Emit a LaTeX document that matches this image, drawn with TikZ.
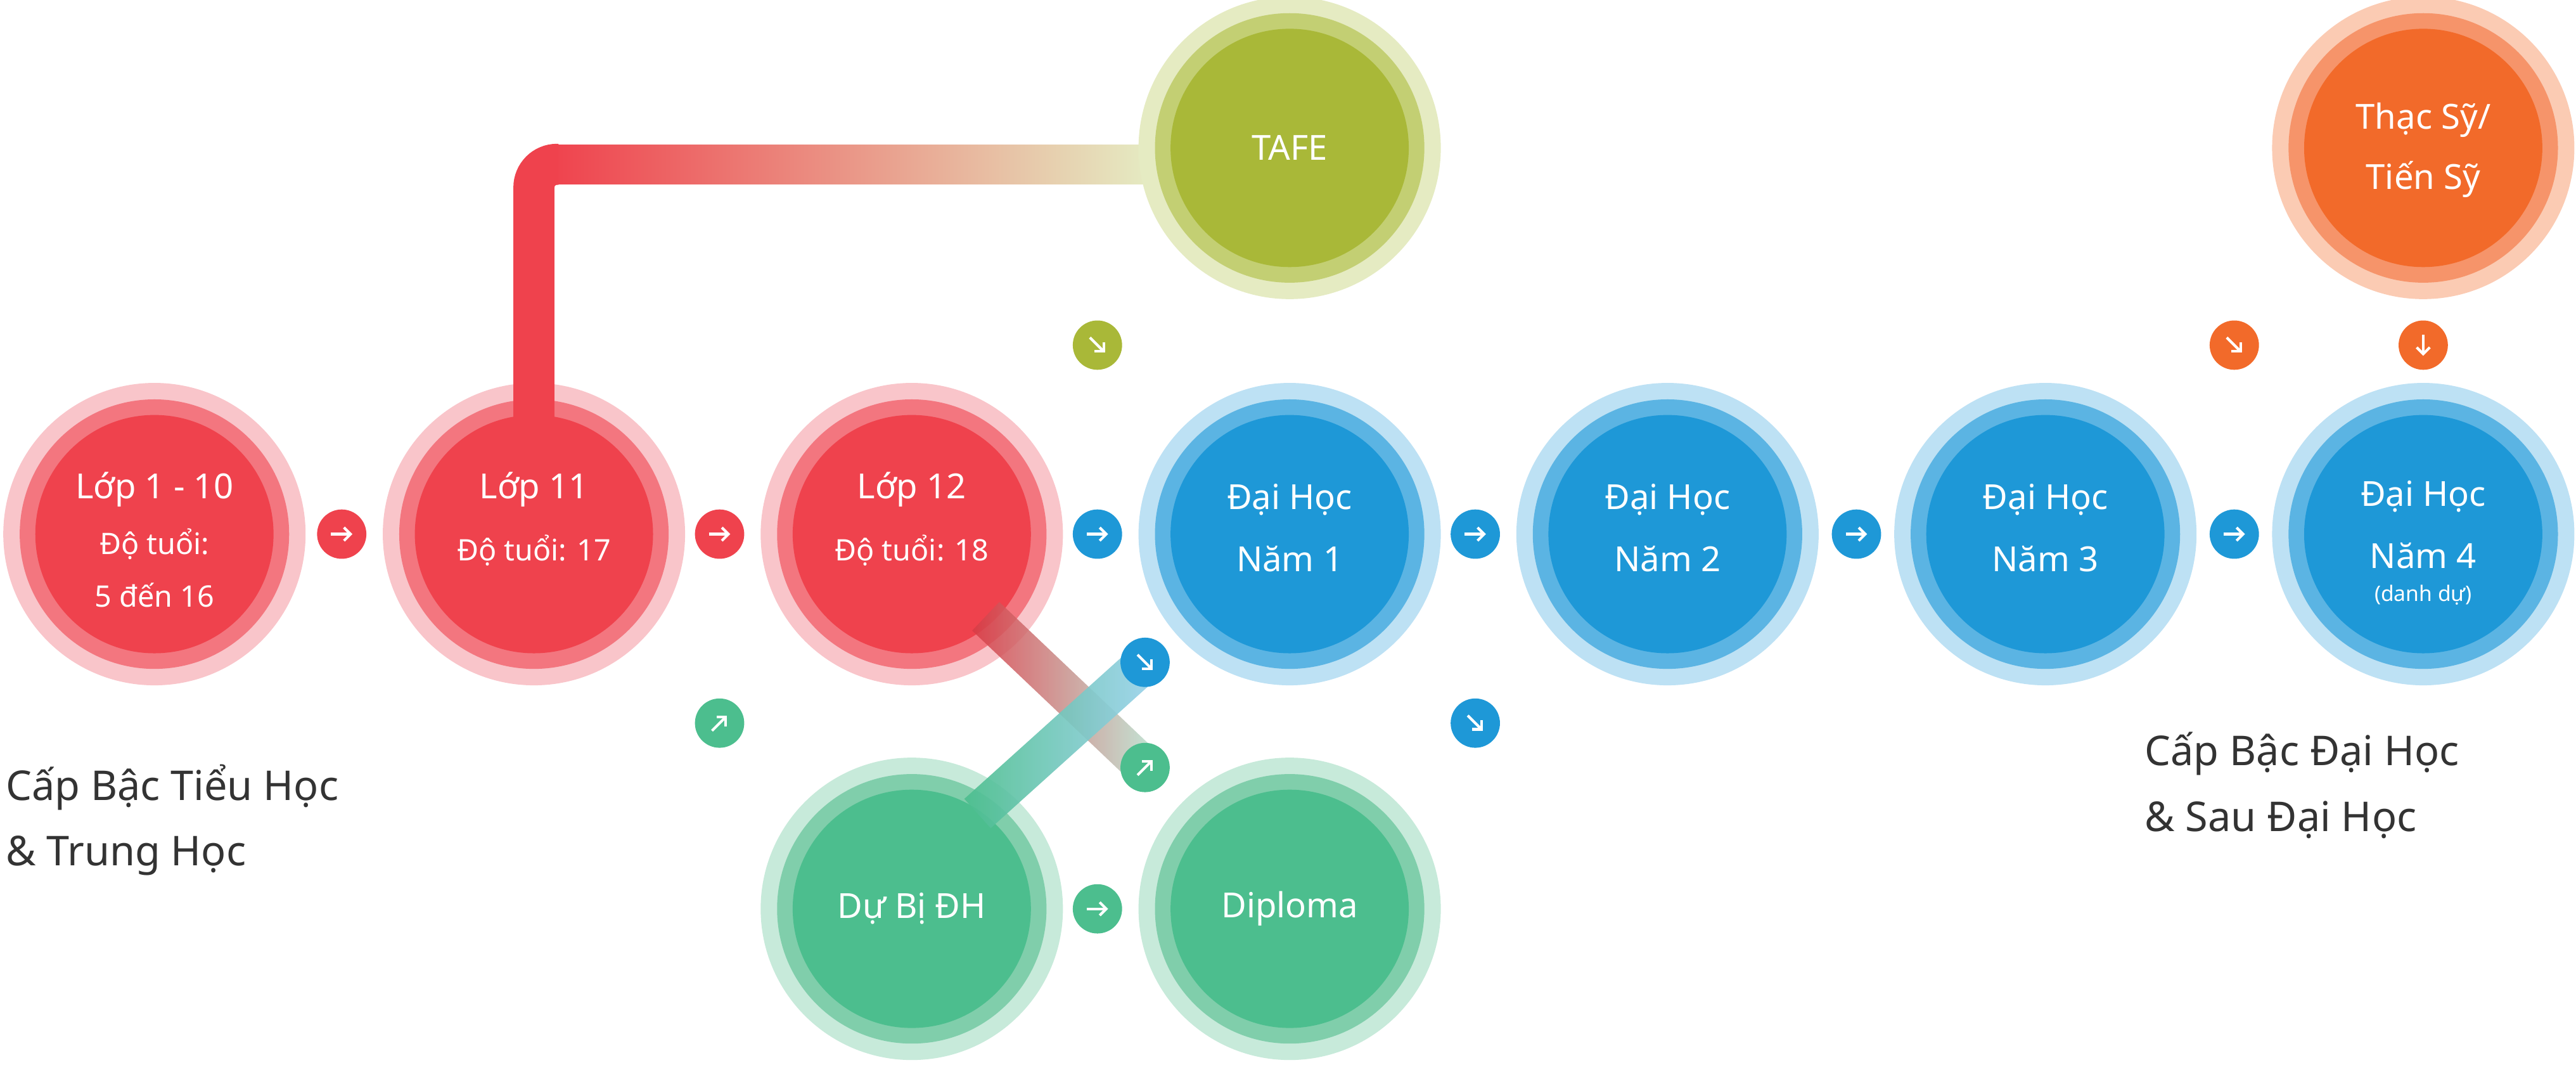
\documentclass[tikz,border=0pt]{standalone}
\usepackage{fontspec}
\setmainfont{Noto Sans}
\usetikzlibrary{arrows.meta}
\definecolor{rO}{HTML}{F9C5CA}\definecolor{rM}{HTML}{F3767F}\definecolor{rI}{HTML}{EF424D}
\definecolor{bO}{HTML}{BDE1F4}\definecolor{bM}{HTML}{5BB4E3}\definecolor{bI}{HTML}{1E98D7}
\definecolor{gO}{HTML}{C7EADA}\definecolor{gM}{HTML}{80CEAB}\definecolor{gI}{HTML}{4CBE8E}
\definecolor{yO}{HTML}{E5EBC2}\definecolor{yM}{HTML}{C3CF73}\definecolor{yI}{HTML}{A9B838}
\definecolor{oO}{HTML}{FBCBB3}\definecolor{oM}{HTML}{F6946A}\definecolor{oI}{HTML}{F26A2A}
\definecolor{txt}{HTML}{333333}
\newcommand{\stagecirc}[3]{% name, pos, colour prefix
  \fill[#3O] #2 circle (92);
  \fill[#3M] #2 circle (82);
  \node[circle,fill=#3I,minimum size=145,inner sep=0] (#1) at #2 {};}
\newcommand{\sarrow}[4]{% name, pos, colour, angle
  \node[circle,fill=#3,minimum size=30,inner sep=0] (#1) at #2 {};
  \draw[white,line width=1.6,-{Straight Barb[length=4,width=8]}] ([shift={(#4+180:6.5)}]#1.center) -- ([shift={(#4:6.5)}]#1.center);}
\tikzset{lbl/.style={text=white,font=\bfseries\fontsize{21}{24}\selectfont,align=center},
  sub/.style={text=white,font=\fontsize{18}{22}\selectfont,align=center},
  side/.style={text=txt,font=\fontsize{25}{40}\selectfont,align=left,anchor=west}}
\begin{document}
\begin{tikzpicture}[x=1pt,y=-1pt]
\useasboundingbox (0,0) rectangle (1568,648);
\stagecirc{l10}{(94,325)}{r}
\stagecirc{l11}{(325,325)}{r}
\stagecirc{l12}{(555,325)}{r}
\stagecirc{d1}{(785,325)}{b}
\stagecirc{d2}{(1015,325)}{b}
\stagecirc{d3}{(1245,325)}{b}
\stagecirc{d4}{(1475,325)}{b}
\stagecirc{db}{(555,553)}{g}
\stagecirc{dip}{(785,553)}{g}
\stagecirc{ts}{(1475,90)}{o}
% bar to TAFE
\shade[left color=rI,right color=yO] (335,88) rectangle (700,112);
\draw[rI,line width=25,rounded corners=14] (325,254) -- (325,100) -- (340,100);
\stagecirc{tafe}{(785,90)}{y}
% diagonal bars
\begin{scope}[shift={(600,375)},rotate=-43.5]
\shade[left color=rI!90!black,right color=gI!40,opacity=0.85] (0,-12) rectangle (134,12);
\end{scope}
\begin{scope}[shift={(595,495)},rotate=42]
\shade[left color=gI,right color=bI!45,opacity=0.9] (0,-12) rectangle (137,12);
\end{scope}
% labels
\node[lbl] at (94,298) {Lớp 1 - 10};
\node[sub] at (94,331) {Độ tuổi:};
\node[sub] at (94,362) {5 đến 16};
\node[lbl] at (325,298) {Lớp 11};
\node[sub] at (325,335) {Độ tuổi: 17};
\node[lbl] at (555,298) {Lớp 12};
\node[sub] at (555,335) {Độ tuổi: 18};
\foreach \x/\n in {785/1,1015/2,1245/3}{
  \node[lbl] at (\x,304) {Đại Học};
  \node[lbl] at (\x,340) {Năm \n};}
\node[lbl] at (1475,302) {Đại Học};
\node[lbl] at (1475,338) {Năm 4};
\node[text=white,font=\fontsize{13}{15}\selectfont] at (1475,362) {(danh dự)};
\node[lbl] at (785,90) {TAFE};
\node[lbl] at (1475,73) {Thạc Sỹ/};
\node[lbl] at (1475,109) {Tiến Sỹ};
\node[lbl] at (555,553) {Dự Bị ĐH};
\node[lbl] at (785,553) {Diploma};
\node[side] (s1) at (0,499) {Cấp Bậc Tiểu Học\\\& Trung Học};
\node[side] (s2) at (1302,478) {Cấp Bậc Đại Học\\\& Sau Đại Học};
% small arrows
\sarrow{a1}{(208,325)}{rI}{0}
\sarrow{a2}{(438,325)}{rI}{0}
\sarrow{a3}{(668,325)}{bI}{0}
\sarrow{a4}{(898,325)}{bI}{0}
\sarrow{a5}{(1130,325)}{bI}{0}
\sarrow{a6}{(1360,325)}{bI}{0}
\sarrow{a7}{(668,210)}{yI}{45}
\sarrow{a8}{(1360,210)}{oI}{45}
\sarrow{a9}{(1475,210)}{oI}{90}
\sarrow{a10}{(438,440)}{gI}{-45}
\sarrow{a11}{(898,440)}{bI}{45}
\sarrow{a12}{(668,553)}{gI}{0}
\sarrow{a13}{(697,403)}{bI}{45}
\sarrow{a14}{(697,467)}{gI}{-45}
\end{tikzpicture}
\end{document}
